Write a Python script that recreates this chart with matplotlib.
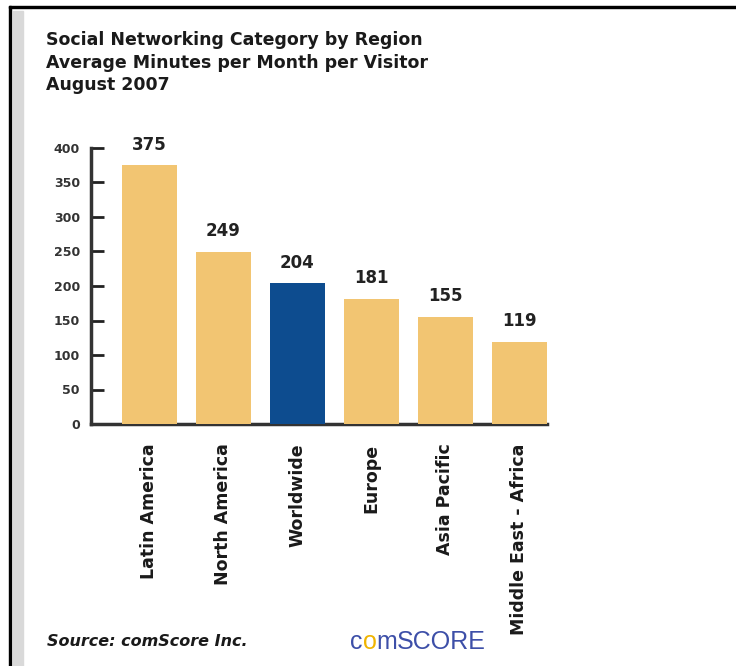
import matplotlib.pyplot as plt
import matplotlib.patches as patches
import numpy as np

# chart data
regions = ["Latin America", "North America", "Worldwide", "Europe",
           "Asia Pacific", "Middle East - Africa"]
minutes = [375, 249, 204, 181, 155, 119]
highlight = "Worldwide"
y_ticks = [0, 50, 100, 150, 200, 250, 300, 350, 400]
title_lines = ["Social Networking Category by Region",
               "Average Minutes per Month per Visitor",
               "August 2007"]
source_text = "Source: comScore Inc."
logo_parts = ["c", "o", "m", "SCORE"]

W, H = 736, 666
fig = plt.figure(figsize=(W / 100, H / 100), dpi=100)

def px(x, y):
    # pixel coords (top-left origin) -> figure fraction
    return x / W, 1 - y / H

# frame: black top and left lines, grey stripe
fig.patches.append(patches.Rectangle(px(9, 666), 2 / W, 660 / H, transform=fig.transFigure,
                                     color="black", zorder=0))
fig.patches.append(patches.Rectangle(px(9, 8), (W - 9) / W, 2 / H, transform=fig.transFigure,
                                     color="black", zorder=0))
fig.patches.append(patches.Rectangle(px(13, 666), 10 / W, 655 / H, transform=fig.transFigure,
                                     color="#d9d9d9", zorder=0))

# titles
for i, line in enumerate(title_lines):
    x, y = px(46, 40 + i * 22.5)
    fig.text(x, y, line, fontsize=12.5, fontweight="bold", color="#1a1a1a",
             ha="left", va="center")

left, bottom = px(91, 424)
ax = fig.add_axes([left, bottom, 456 / W, 276 / H])

colors = ["#0d4c8f" if r == highlight else "#f2c572" for r in regions]
xpos = np.arange(len(regions))
bars = ax.bar(xpos, minutes, width=0.75, color=colors, zorder=3)

for b, v in zip(bars, minutes):
    ax.text(b.get_x() + b.get_width() / 2, v + 17, str(v), ha="center", va="bottom",
            fontsize=12, fontweight="bold", color="#222222")

ax.set_xlim(-0.79, 5.375)
ax.set_ylim(0, 400)
ax.set_yticks(y_ticks)
ax.set_yticklabels([str(t) for t in y_ticks], fontsize=9, fontweight="bold", color="#333333")
ax.tick_params(axis="y", direction="in", length=9, width=2, color="#222222", pad=8)
ax.set_xticks(xpos)
ax.set_xticklabels(regions, rotation=90, fontsize=12.5, fontweight="bold", color="#1a1a1a",
                   va="top", ha="center")
ax.tick_params(axis="x", length=0, pad=14)

for s in ["top", "right"]:
    ax.spines[s].set_visible(False)
for s in ["left", "bottom"]:
    ax.spines[s].set_linewidth(2.5)
    ax.spines[s].set_color("#333333")
ax.patch.set_visible(False)

# source and logo
x, y = px(47, 642)
fig.text(x, y, source_text, fontsize=11.5, fontweight="bold", fontstyle="italic",
         color="#1a1a1a", ha="left", va="center")

blue = "#3d4fa8"
logo_colors = [blue, "#f0b400", blue, blue]
x, y = px(350, 654)
prev = fig.text(x, y, logo_parts[0], fontsize=18, color=logo_colors[0],
                family="Liberation Sans", va="bottom", ha="left")
for s, c in zip(logo_parts[1:], logo_colors[1:]):
    # each piece starts where the previous one ends
    prev = fig.add_artist(plt.Annotation(s, xy=(1, 0), xycoords=prev, fontsize=18, color=c,
                                         family="Liberation Sans", va="bottom", ha="left",
                                         annotation_clip=False))

fig.savefig("out.png", dpi=100)
